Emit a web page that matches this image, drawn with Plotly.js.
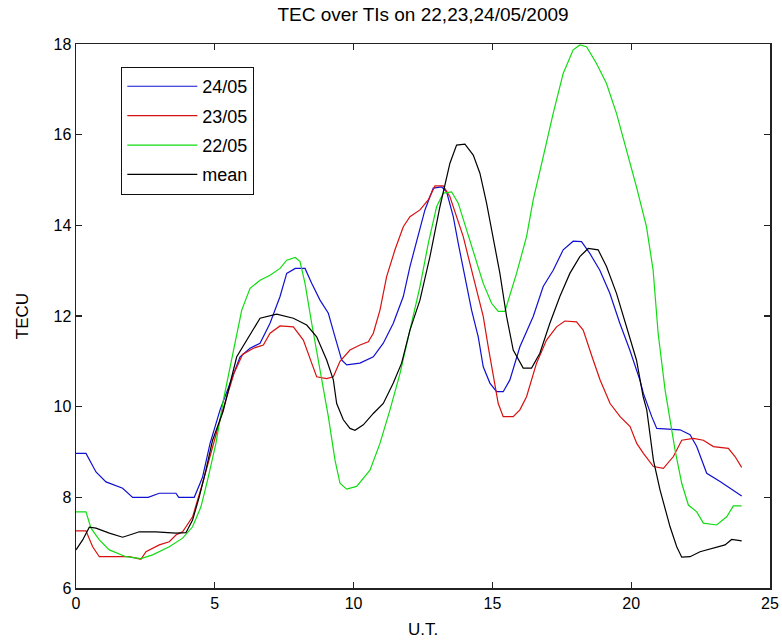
<!DOCTYPE html>
<html>
<head>
<meta charset="utf-8">
<script src="https://cdn.plot.ly/plotly-3.0.1.min.js"></script>
<style>html,body{margin:0;padding:0;background:#fff;}#chart{width:782px;height:644px;}</style>
</head>
<body>
<div id="chart"></div>
<script>
// 24/05
const x24 = [0, 0.36, 0.72, 1.08, 1.68, 2.04, 2.6, 3.0, 3.6, 3.7, 4.2, 4.26, 4.47, 4.56, 4.83, 5.19, 5.55, 5.91, 6.27, 6.63, 6.99, 7.35, 7.59, 7.9, 8.25, 8.49, 8.79, 9.09, 9.33, 9.57, 9.75, 10.23, 10.71, 11.07, 11.43, 11.79, 12.03, 12.33, 12.57, 12.87, 13.17, 13.35, 13.59, 13.77, 14.01, 14.25, 14.49, 14.67, 14.91, 15.15, 15.39, 15.63, 15.99, 16.47, 16.83, 17.19, 17.55, 17.91, 18.21, 18.51, 18.87, 19.23, 19.59, 19.95, 20.31, 20.44, 20.74, 20.92, 21.76, 22.12, 22.36, 22.72, 23.2, 23.56, 23.98];
const y24 = [8.97, 8.97, 8.56, 8.34, 8.2, 8.0, 8.0, 8.09, 8.09, 8.0, 8.0, 8.0, 8.31, 8.45, 9.19, 9.93, 10.52, 11.1, 11.29, 11.4, 11.84, 12.43, 12.94, 13.05, 13.05, 12.72, 12.35, 12.06, 11.54, 11.03, 10.92, 10.96, 11.1, 11.4, 11.84, 12.43, 13.09, 13.82, 14.34, 14.82, 14.85, 14.74, 14.19, 13.6, 12.87, 12.13, 11.54, 10.88, 10.52, 10.33, 10.33, 10.59, 11.32, 11.99, 12.65, 13.01, 13.46, 13.65, 13.64, 13.38, 13.01, 12.5, 11.84, 11.25, 10.59, 10.29, 9.78, 9.52, 9.49, 9.38, 9.12, 8.53, 8.35, 8.2, 8.03];
// 23/05
const x23 = [0, 0.36, 0.6, 0.84, 1.92, 2.34, 2.52, 3.0, 3.36, 3.6, 3.84, 4.2, 4.56, 4.92, 5.3, 5.7, 6.0, 6.39, 6.75, 6.99, 7.35, 7.83, 8.19, 8.49, 8.67, 9.03, 9.27, 9.51, 9.87, 10.23, 10.53, 10.71, 10.95, 11.19, 11.49, 11.79, 12.03, 12.39, 12.69, 12.93, 13.23, 13.47, 13.71, 13.95, 14.19, 14.43, 14.67, 14.85, 15.03, 15.21, 15.39, 15.75, 15.99, 16.23, 16.59, 16.95, 17.31, 17.61, 18.03, 18.27, 18.63, 18.88, 19.24, 19.6, 19.96, 20.2, 20.44, 20.8, 21.16, 21.52, 21.82, 22.24, 22.6, 22.96, 23.5, 23.74, 23.98];
const y23 = [7.26, 7.26, 6.91, 6.69, 6.69, 6.63, 6.8, 6.95, 7.02, 7.17, 7.24, 7.57, 8.31, 9.12, 9.95, 10.75, 11.15, 11.29, 11.36, 11.62, 11.78, 11.76, 11.47, 10.96, 10.66, 10.62, 10.66, 11.0, 11.25, 11.36, 11.43, 11.62, 12.13, 12.87, 13.46, 13.97, 14.19, 14.34, 14.56, 14.87, 14.87, 14.63, 14.19, 13.75, 13.16, 12.57, 11.99, 11.32, 10.66, 10.07, 9.78, 9.78, 9.93, 10.22, 10.96, 11.47, 11.76, 11.89, 11.87, 11.69, 11.03, 10.59, 10.07, 9.78, 9.56, 9.19, 8.97, 8.68, 8.64, 8.9, 9.26, 9.3, 9.26, 9.12, 9.08, 8.9, 8.66];
// 22/05
const x22 = [0, 0.36, 0.54, 0.84, 1.2, 1.8, 2.34, 2.76, 3.36, 3.84, 4.2, 4.5, 4.74, 5.04, 5.31, 5.67, 5.97, 6.27, 6.63, 6.99, 7.35, 7.59, 7.9, 8.07, 8.25, 8.49, 8.79, 9.09, 9.33, 9.51, 9.75, 10.11, 10.59, 10.95, 11.31, 11.67, 12.03, 12.39, 12.69, 12.99, 13.23, 13.53, 13.77, 14.07, 14.37, 14.67, 14.97, 15.21, 15.45, 15.87, 16.23, 16.47, 16.83, 17.19, 17.55, 17.91, 18.15, 18.39, 18.75, 19.11, 19.47, 19.83, 20.19, 20.55, 20.79, 20.97, 21.04, 21.22, 21.4, 21.58, 21.82, 22.06, 22.36, 22.6, 23.08, 23.44, 23.68, 23.98];
const y22 = [7.68, 7.68, 7.32, 7.06, 6.84, 6.69, 6.65, 6.73, 6.91, 7.1, 7.35, 7.79, 8.38, 9.19, 10.15, 11.25, 12.13, 12.61, 12.79, 12.9, 13.05, 13.23, 13.29, 13.2, 12.72, 11.84, 10.81, 9.78, 8.82, 8.31, 8.18, 8.24, 8.6, 9.19, 9.93, 10.73, 11.69, 12.65, 13.6, 14.41, 14.71, 14.74, 14.49, 13.9, 13.31, 12.72, 12.28, 12.1, 12.1, 12.94, 13.75, 14.56, 15.51, 16.47, 17.35, 17.87, 17.98, 17.94, 17.57, 17.13, 16.47, 15.66, 14.85, 13.97, 13.01, 11.62, 11.25, 10.37, 9.71, 9.04, 8.31, 7.83, 7.68, 7.43, 7.39, 7.57, 7.81, 7.81];
// mean
const xMean = [0, 0.24, 0.48, 0.72, 1.2, 1.68, 2.04, 2.28, 2.88, 3.6, 3.96, 4.2, 4.44, 4.68, 4.92, 5.3, 5.79, 6.15, 6.63, 7.23, 7.83, 8.31, 8.67, 9.03, 9.27, 9.39, 9.63, 9.87, 10.05, 10.35, 10.71, 11.07, 11.43, 11.73, 12.03, 12.39, 12.75, 13.11, 13.47, 13.71, 14.01, 14.31, 14.55, 14.79, 15.03, 15.27, 15.51, 15.75, 16.11, 16.41, 16.71, 17.07, 17.43, 17.79, 18.15, 18.45, 18.81, 19.11, 19.47, 19.83, 20.19, 20.43, 20.56, 20.8, 21.04, 21.4, 21.64, 21.82, 22.12, 22.48, 22.96, 23.38, 23.62, 23.98];
const yMean = [6.84, 7.06, 7.34, 7.32, 7.21, 7.12, 7.19, 7.24, 7.24, 7.21, 7.22, 7.5, 8.01, 8.6, 9.26, 9.9, 11.1, 11.47, 11.95, 12.04, 11.95, 11.8, 11.54, 11.03, 10.59, 10.07, 9.71, 9.52, 9.48, 9.6, 9.85, 10.07, 10.52, 10.96, 11.69, 12.35, 13.31, 14.41, 15.37, 15.77, 15.79, 15.55, 15.15, 14.49, 13.75, 12.94, 11.99, 11.25, 10.85, 10.85, 11.18, 11.84, 12.43, 12.94, 13.31, 13.49, 13.46, 13.09, 12.5, 11.76, 11.03, 10.22, 9.93, 8.82, 8.16, 7.35, 6.91, 6.68, 6.69, 6.8, 6.88, 6.95, 7.07, 7.04];

const seriesNames = ['24/05', '23/05', '22/05', 'mean'];
const xTicks = [0, 5, 10, 15, 20, 25];
const yTicks = [6, 8, 10, 12, 14, 16, 18];

const colors = ['#1010d0', '#d81010', '#10dc10', '#000000'];
const xs = [x24, x23, x22, xMean];
const ys = [y24, y23, y22, yMean];

const traces = seriesNames.map((n, i) => ({
  x: xs[i], y: ys[i], name: n, type: 'scatter', mode: 'lines',
  line: {color: colors[i], width: 1.2, shape: 'linear'},
  legendgroup: 'g' + i
}));

const fam = 'Liberation Sans, Arial, sans-serif';
const font = {family: fam, color: '#000', size: 16};
const axisCommon = {
  showgrid: false, zeroline: false, showline: true, linecolor: '#222', linewidth: 1.5,
  mirror: 'ticks', ticks: 'inside', ticklen: 6, tickcolor: '#222', tickwidth: 1.2,
  tickfont: font
};

const layout = {
  width: 782, height: 644,
  margin: {l: 76, r: 12, t: 44, b: 56, pad: 0},
  paper_bgcolor: '#fff', plot_bgcolor: '#fff',
  font: font,
  title: {text: 'TEC over TIs on 22,23,24/05/2009', font: {family: fam, size: 19, color: '#000'}, x: 0.541, xanchor: 'center', y: 0.988, yanchor: 'top'},
  xaxis: Object.assign({}, axisCommon, {range: [0, 25], tickvals: xTicks, ticktext: xTicks.map(String),
    title: {text: 'U.T.', font: {family: fam, size: 17, color: '#000'}, standoff: 12}}),
  yaxis: Object.assign({}, axisCommon, {range: [6, 18], tickvals: yTicks, ticktext: yTicks.map(String),
    title: {text: 'TECU', font: {family: fam, size: 17, color: '#000'}, standoff: 20}}),
  showlegend: true,
  legend: {x: 0.065, y: 0.958, xanchor: 'left', yanchor: 'top', bgcolor: '#fff',
    bordercolor: '#111', borderwidth: 1.2, font: {family: fam, size: 18, color: '#000'},
    tracegroupgap: 3, itemwidth: 70}
};

Plotly.newPlot('chart', traces, layout, {displayModeBar: false, staticPlot: true});
</script>
</body>
</html>
